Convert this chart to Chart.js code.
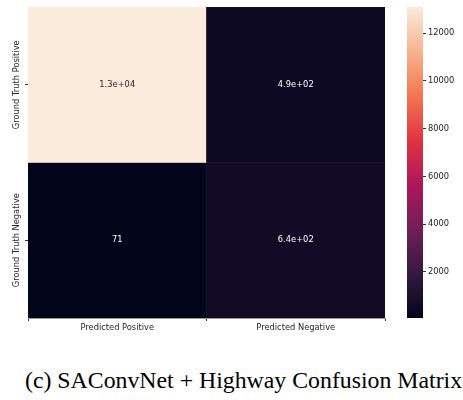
<!DOCTYPE html>
<html>
<head>
<meta charset="utf-8">
<script src="https://cdn.jsdelivr.net/npm/chart.js@4.4.0/dist/chart.umd.min.js"></script>
<style>
  body { margin:0; background:#fff; width:463px; height:400px; position:relative; overflow:hidden; }
  #heatWrap { position:absolute; left:0; top:0; width:400px; height:340px; }
  #barWrap { position:absolute; left:380px; top:0; width:83px; height:340px; }
  #caption { position:absolute; left:25px; top:368px; font-family:"Liberation Serif", serif; font-size:23.8px; line-height:24px; color:#000; white-space:nowrap; }
</style>
</head>
<body>
<div id="heatWrap"><canvas id="heat"></canvas></div>
<div id="barWrap"><canvas id="cbar"></canvas></div>
<div id="caption">(c) SAConvNet + Highway Confusion Matrix</div>
<script>
// data
const colLabels = ['Predicted Positive', 'Predicted Negative'];
const rowLabels = ['Ground Truth Positive', 'Ground Truth Negative'];
const rowPositive = [13100, 490];
const rowNegative = [71, 640];
const cbarTicks = [2000, 4000, 6000, 8000, 10000, 12000];

const rows = [rowPositive, rowNegative];
const vmin = Math.min(...rowPositive, ...rowNegative);
const vmax = Math.max(...rowPositive, ...rowNegative);

// rocket colormap (approx)
const rocket = [
  [0.000, [3, 5, 26]],
  [0.143, [53, 25, 62]],
  [0.286, [112, 31, 87]],
  [0.429, [173, 23, 89]],
  [0.571, [225, 51, 66]],
  [0.714, [243, 118, 81]],
  [0.857, [246, 180, 143]],
  [1.000, [250, 235, 221]]
];
function cmap(t) {
  t = Math.max(0, Math.min(1, t));
  for (let i = 1; i < rocket.length; i++) {
    if (t <= rocket[i][0]) {
      const a = rocket[i-1], b = rocket[i];
      const f = (t - a[0]) / (b[0] - a[0]);
      const c = a[1].map((v, k) => Math.round(v + (b[1][k] - v) * f));
      return 'rgb(' + c.join(',') + ')';
    }
  }
  return 'rgb(250,235,221)';
}
const norm = v => (v - vmin) / (vmax - vmin);

function fmt(v) {
  if (Math.abs(v) < 100) return String(v);
  let s = v.toExponential(1);
  return s.replace(/e([+-])(\d)$/, 'e$10$2');
}

const fontSize = 8.3;
const tickFont = { family: 'DejaVu Sans', size: fontSize };

const cellText = {
  id: 'cellText',
  afterDatasetsDraw(chart) {
    const ctx = chart.ctx, xs = chart.scales.x, ys = chart.scales.y;
    ctx.save();
    ctx.font = fontSize + 'px "DejaVu Sans"';
    ctx.textAlign = 'center';
    ctx.textBaseline = 'middle';
    rows.forEach((row, r) => {
      row.forEach((v, c) => {
        ctx.fillStyle = norm(v) > 0.6 ? '#262626' : '#ffffff';
        ctx.fillText(fmt(v), xs.getPixelForValue(c), ys.getPixelForValue(r + 0.5));
      });
    });
    // row labels, rotated
    ctx.fillStyle = '#262626';
    rowLabels.forEach((lab, r) => {
      ctx.save();
      ctx.translate(17, ys.getPixelForValue(r + 0.5));
      ctx.rotate(-Math.PI / 2);
      ctx.fillText(lab, 0, 0);
      ctx.restore();
    });
    ctx.restore();
  }
};

new Chart(document.getElementById('heat'), {
  type: 'bar',
  data: {
    labels: colLabels,
    datasets: rows.map((row, r) => ({
      data: row.map(() => [r, r + 1]),
      backgroundColor: row.map(v => cmap(norm(v))),
      borderWidth: 0,
      barPercentage: 1,
      categoryPercentage: 1,
      grouped: false
    }))
  },
  options: {
    responsive: true,
    maintainAspectRatio: false,
    animation: false,
    layout: { padding: { left: 0, top: 7, right: 15, bottom: 0 } },
    plugins: { legend: { display: false }, tooltip: { enabled: false } },
    scales: {
      x: {
        grid: { display: true, drawOnChartArea: false, tickLength: 3, color: '#333' },
        border: { display: true, color: '#999', width: 1 },
        ticks: { color: '#262626', font: tickFont, padding: 2, maxRotation: 0 },
        afterFit(s) { s.height = 22; }
      },
      y: {
        min: 0, max: 2, reverse: true,
        grid: { display: true, drawOnChartArea: false, tickLength: 3, color: '#333' },
        border: { display: false },
        afterBuildTicks(s) { s.ticks = [{ value: 0.5 }, { value: 1.5 }]; },
        ticks: { display: false },
        afterFit(s) { s.width = 28; }
      }
    }
  },
  plugins: [cellText]
});

new Chart(document.getElementById('cbar'), {
  type: 'bar',
  data: {
    labels: ['cbar'],
    datasets: [{
      data: [[vmin, vmax]],
      borderWidth: 0,
      barPercentage: 1,
      categoryPercentage: 1,
      backgroundColor(ctx) {
        const chart = ctx.chart, ys = chart.scales.y;
        if (!chart.chartArea || !ys) return '#000';
        const g = chart.ctx.createLinearGradient(0, ys.getPixelForValue(vmin), 0, ys.getPixelForValue(vmax));
        for (let i = 0; i <= 40; i++) g.addColorStop(i / 40, cmap(i / 40));
        return g;
      }
    }]
  },
  options: {
    responsive: true,
    maintainAspectRatio: false,
    animation: false,
    layout: { padding: { left: 27, top: 7, right: 0, bottom: 22 } },
    plugins: { legend: { display: false }, tooltip: { enabled: false } },
    scales: {
      x: { display: false },
      y: {
        position: 'right',
        min: vmin, max: vmax,
        grid: { display: true, drawOnChartArea: false, tickLength: 3, color: '#333' },
        border: { display: false },
        afterBuildTicks(s) { s.ticks = cbarTicks.map(v => ({ value: v })); },
        ticks: { color: '#262626', font: tickFont, padding: 2, callback: v => String(v) },
        afterFit(s) { s.width = 40; }
      }
    }
  }
});
</script>
</body>
</html>
